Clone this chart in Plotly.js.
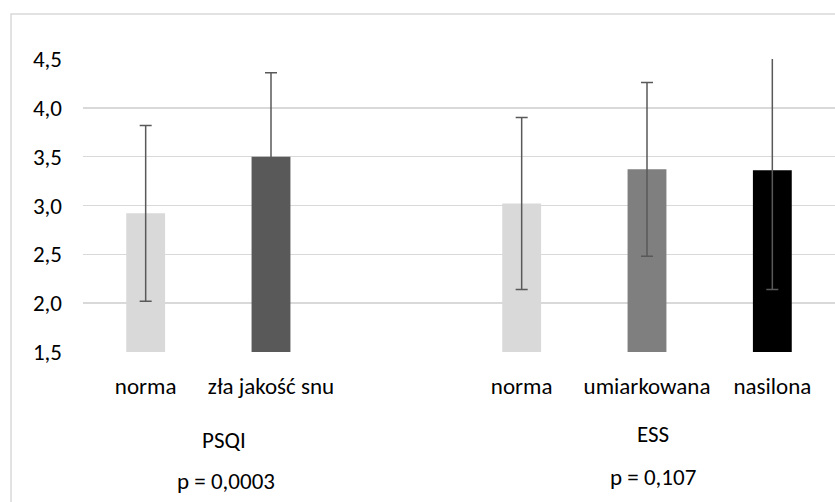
<!DOCTYPE html>
<html>
<head>
<meta charset="utf-8">
<script src="https://cdn.plot.ly/plotly-3.0.1.min.js"></script>
<style>
  html, body { margin: 0; padding: 0; background: #fff; }
  #chart { width: 835px; height: 502px; }
</style>
</head>
<body>
<div id="chart"></div>
<script>
// ---- data ----
const categories = ['norma', 'zła jakość snu', 'norma', 'umiarkowana', 'nasilona'];
const groups     = ['PSQI', 'PSQI', 'ESS', 'ESS', 'ESS'];
const means      = [2.92, 3.50, 3.02, 3.37, 3.36];
const sds        = [0.90, 0.86, 0.88, 0.89, 1.22];
const barColors  = ['#d9d9d9', '#595959', '#d9d9d9', '#7f7f7f', '#000000'];
const groupNames = ['PSQI', 'ESS'];
const pValues    = ['p = 0,0003', 'p = 0,107'];
const yTicks     = [1.5, 2.0, 2.5, 3.0, 3.5, 4.0, 4.5];

// slot index per bar: one empty slot between groups
const slots = [];
let gapCount = 0;
groups.forEach((g, i) => {
  if (i > 0 && g !== groups[i - 1]) gapCount += 1;
  slots.push(i + gapCount);
});

const FONT = 'Carlito, Calibri, "Liberation Sans Narrow", sans-serif';
const FS = 23;

const trace = {
  type: 'bar',
  x: slots,
  y: means,
  marker: { color: barColors, line: { width: 0 } },
  error_y: { type: 'data', array: sds, visible: true, color: '#595959', thickness: 1.5, width: 6 },
  hoverinfo: 'skip'
};

const layout = {
  width: 835,
  height: 502,
  margin: { l: 83, r: 0, t: 59, b: 150 },
  paper_bgcolor: '#ffffff',
  plot_bgcolor: '#ffffff',
  showlegend: false,
  separators: ', ',
  bargap: 0.69,
  font: { family: FONT, size: FS, color: '#000000' },
  xaxis: {
    range: [-0.5, 5.5],
    tickmode: 'array',
    tickvals: slots,
    ticktext: categories,
    showgrid: false,
    zeroline: false,
    showline: false,
    ticks: '',
    ticklabelstandoff: 18,
    tickfont: { family: FONT, size: FS, color: '#000000' },
    fixedrange: true
  },
  yaxis: {
    range: [1.5, 4.5],
    tickmode: 'array',
    tickvals: yTicks,
    tickformat: '.1f',
    showgrid: true,
    gridcolor: '#d9d9d9',
    gridwidth: 1.4,
    zeroline: false,
    showline: false,
    ticks: '',
    ticklabelstandoff: 20,
    tickfont: { family: FONT, size: FS, color: '#000000' },
    fixedrange: true
  },
  shapes: [
    { type: 'rect', xref: 'paper', yref: 'paper', x0: -0.0957, x1: 1.05, y0: -0.6, y1: 1.1536,
      line: { color: '#d9d9d9', width: 1.5 }, fillcolor: 'rgba(0,0,0,0)', layer: 'below' }
  ],
  annotations: [
    { text: groupNames[0], xref: 'paper', yref: 'paper', x: 0.188, y: -0.300, showarrow: false,
      xanchor: 'center', yanchor: 'middle', font: { family: FONT, size: FS, color: '#000' } },
    { text: groupNames[1], xref: 'paper', yref: 'paper', x: 0.758, y: -0.280, showarrow: false,
      xanchor: 'center', yanchor: 'middle', font: { family: FONT, size: FS, color: '#000' } },
    { text: pValues[0], xref: 'paper', yref: 'paper', x: 0.190, y: -0.440, showarrow: false,
      xanchor: 'center', yanchor: 'middle', font: { family: FONT, size: FS, color: '#000' } },
    { text: pValues[1], xref: 'paper', yref: 'paper', x: 0.758, y: -0.425, showarrow: false,
      xanchor: 'center', yanchor: 'middle', font: { family: FONT, size: FS, color: '#000' } }
  ]
};

Plotly.newPlot('chart', [trace], layout, { displayModeBar: false, staticPlot: true });
</script>
</body>
</html>
